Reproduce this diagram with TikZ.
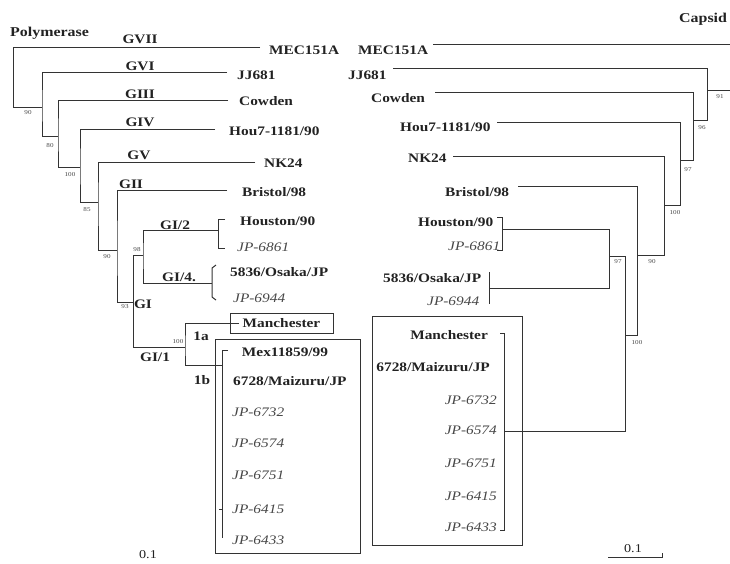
\documentclass[tikz,border=0pt]{standalone}
\usepackage{fontspec}
\setmainfont[FakeStretch=1.18]{Liberation Serif}
\definecolor{ink}{HTML}{222222}
\definecolor{soft}{HTML}{474747}
\definecolor{wire}{HTML}{333333}
\begin{document}
\begin{tikzpicture}[x=1pt,y=-1pt,
  lbl/.style={font=\fontsize{13}{15}\selectfont\bfseries, text=ink, inner sep=0pt, text height=8.5pt, text depth=0pt},
  ital/.style={font=\fontsize{13}{15}\selectfont\itshape, text=soft, inner sep=0pt, text height=8.5pt, text depth=0pt},
  boot/.style={font=\fontsize{6}{7}\selectfont, text=soft, inner sep=0pt},
  br/.style={draw=wire, line width=1pt},
  boxed/.style={draw=wire, line width=1pt}]
\useasboundingbox (0,0) rectangle (730,563);
\fill[white] (0,0) rectangle (730,563);

% titles
\node[lbl, anchor=west, font=\fontsize{13.5}{15}\selectfont\bfseries] (poly) at (10,32) {Polymerase};
\node[lbl, anchor=west, font=\fontsize{13.5}{15}\selectfont\bfseries] (caps) at (679,18) {Capsid};

% ---------- left leaves
\node[lbl, anchor=west] (LMEC) at (269,50) {MEC151A};
\node[lbl, anchor=west] (LJJ) at (237,75) {JJ681};
\node[lbl, anchor=west] (LCow) at (239,101) {Cowden};
\node[lbl, anchor=west] (LHou7) at (229,131) {Hou7-1181/90};
\node[lbl, anchor=west] (LNK) at (264,163) {NK24};
\node[lbl, anchor=west] (LBri) at (242,192) {Bristol/98};
\node[lbl, anchor=west] (LHous) at (240,221) {Houston/90};
\node[ital, anchor=west] (L6861) at (237,247) {JP-6861};
\node[lbl, anchor=west] (L5836) at (230,272) {5836/Osaka/JP};
\node[ital, anchor=west] (L6944) at (233,298) {JP-6944};
\node[lbl] (LMan) at (281.5,323) {Manchester};
\node[lbl] (LMex) at (285,352) {Mex11859/99};
\node[lbl, anchor=west] (L6728) at (233,381) {6728/Maizuru/JP};
\node[ital, anchor=west] (L6732) at (232,412) {JP-6732};
\node[ital, anchor=west] (L6574) at (232,443) {JP-6574};
\node[ital, anchor=west] (L6751) at (232,475) {JP-6751};
\node[ital, anchor=west] (L6415) at (232,509) {JP-6415};
\node[ital, anchor=west] (L6433) at (232,540) {JP-6433};

% ---------- right leaves
\node[lbl, anchor=west] (RMEC) at (358,50) {MEC151A};
\node[lbl, anchor=west] (RJJ) at (348,75) {JJ681};
\node[lbl, anchor=west] (RCow) at (371,98) {Cowden};
\node[lbl, anchor=west] (RHou7) at (400,127) {Hou7-1181/90};
\node[lbl, anchor=west] (RNK) at (408,158) {NK24};
\node[lbl, anchor=west] (RBri) at (445,192) {Bristol/98};
\node[lbl, anchor=west] (RHous) at (418,222) {Houston/90};
\node[ital, anchor=west] (R6861) at (448,246) {JP-6861};
\node[lbl, anchor=west] (R5836) at (383,278) {5836/Osaka/JP};
\node[ital, anchor=west] (R6944) at (427,301) {JP-6944};
\node[lbl, anchor=east] (RMan) at (488,335) {Manchester};
\node[lbl, anchor=east] (R6728) at (490,367) {6728/Maizuru/JP};
\node[ital, anchor=east] (R6732) at (497,400) {JP-6732};
\node[ital, anchor=east] (R6574) at (497,430) {JP-6574};
\node[ital, anchor=east] (R6751) at (497,463) {JP-6751};
\node[ital, anchor=east] (R6415) at (497,496) {JP-6415};
\node[ital, anchor=east] (R6433) at (497,527) {JP-6433};

% boxes
\draw[boxed] (230,313) rectangle (333,333);
\draw[boxed] (215,339) rectangle (360,553);
\draw[boxed] (372,316) rectangle (522,545);

% ---------- left tree
\coordinate (la) at (13,47);
\coordinate (lb) at (42,107);
\coordinate (lc) at (58,136);
\coordinate (ld) at (80,167);
\coordinate (le) at (98,202);
\coordinate (lf) at (117,250);
\coordinate (lg) at (133,302);
\coordinate (lh) at (143,255);
\coordinate (li) at (185,347);
\draw[br] (260,47) -- (la) |- (lb);
\draw[br] (227,72) -| (lb) |- (lc);
\draw[br] (228,100) -| (lc) |- (ld);
\draw[br] (215,129) -| (ld) |- (le);
\draw[br] (255,162) -| (le) |- (lf);
\draw[br] (227,190) -| (lf) |- (lg);
\draw[br] (lh) -| (133,347) -- (li);
\draw[br] (218,230) -| (lh) |- (212,283);
\draw[br] (225,219) -- (218,219) -- (218,248) -- (225,248);
\draw[br] (216,265) -- (212,268) -- (212,297) -- (216,300);
\draw[br] (LMan.west) ++(-3.5,0) coordinate (mw) -| (li) |- (222,365);
\draw[br] (228,350) -- (222,350) -- (222,538);
\draw[br] (219,509) -- (222,509);

% ---------- right tree
\coordinate (ra) at (707,90);
\coordinate (rb) at (693,120);
\coordinate (rc) at (680,160);
\coordinate (rd) at (664,205);
\coordinate (re) at (637,255);
\coordinate (rf) at (625,335);
\coordinate (rg) at (609,256);
\draw[br] (433,44) -- (730,44);
\draw[br] (730,90) -- (ra);
\draw[br] (393,68) -| (707,120) -- (rb);
\draw[br] (435,92) -| (693,160) -- (rc);
\draw[br] (497,122) -| (680,205) -- (rd);
\draw[br] (453,156) -| (664,255) -- (re);
\draw[br] (518,186) -| (637,335) -- (rf);
\draw[br] (rg) -| (625,431) -- (504,431);
\draw[br] (502,229) -| (rg) |- (489,288);
\draw[br] (497,217) -- (502,217) -- (502,250) -- (497,250);
\draw[br] (489,272) -- (489,304);
\draw[br] (500,333) -- (504,333) -- (504,530) -- (500,530);

% ---------- group labels
\node[lbl] (gvii) at (140,39) {GVII};
\node[lbl] (gvi) at (140,66) {GVI};
\node[lbl] (giii) at (140,94) {GIII};
\node[lbl] (giv) at (140,122) {GIV};
\node[lbl] (gv) at (139,155) {GV};
\node[lbl] (gii) at (131,184) {GII};
\node[lbl] (gi2) at (175,225) {GI/2};
\node[lbl] (gi4) at (179,277) {GI/4.};
\node[lbl] (gi) at (143,304) {GI};
\node[lbl] (gi1) at (155,357) {GI/1};
\node[lbl] (ga) at (201,336) {1a};
\node[lbl] (gb) at (202,380) {1b};

% ---------- bootstrap values
\node[boot] (b1) at (28,113) {90};
\node[boot] (b2) at (50,146) {80};
\node[boot] (b3) at (70,175) {100};
\node[boot] (b4) at (87,210) {85};
\node[boot] (b5) at (107,257) {90};
\node[boot] (b6) at (137,250) {98};
\node[boot] (b7) at (125,307) {93};
\node[boot] (b8) at (178,342) {100};
\node[boot] (c1) at (720,97) {91};
\node[boot] (c2) at (702,128) {96};
\node[boot] (c3) at (688,170) {97};
\node[boot] (c4) at (675,213) {100};
\node[boot] (c5) at (652,262) {90};
\node[boot] (c6) at (618,262) {97};
\node[boot] (c7) at (637,343) {100};

% ---------- scale bars
\node[font=\fontsize{12}{14}\selectfont, text=ink] (s1) at (148,555) {0.1};
\node[font=\fontsize{12}{14}\selectfont, text=ink] (s2) at (633,549) {0.1};
\coordinate (s2a) at (608,557);
\coordinate (s2b) at (662,557);
\draw[br] (s2a) -- (s2b) -- ++(0,-4);
\end{tikzpicture}
\end{document}
